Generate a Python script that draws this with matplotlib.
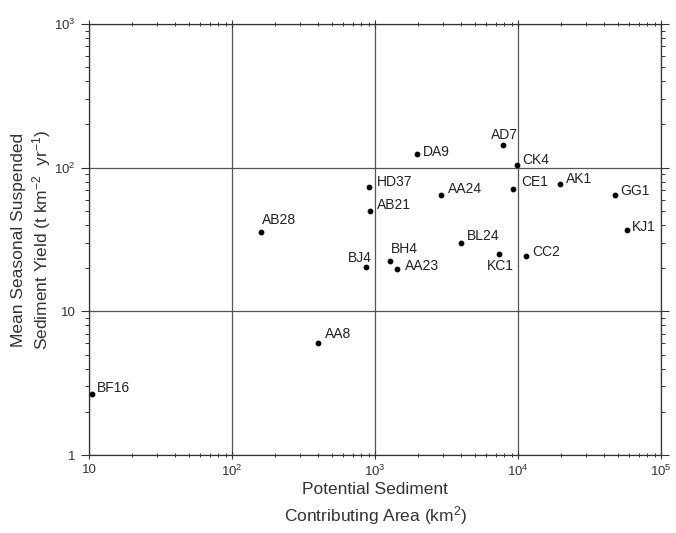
import numpy as np
from matplotlib import pyplot as plt
from matplotlib.ticker import LogLocator, NullFormatter, FixedLocator, FixedFormatter

plt.rcParams['font.family'] = ['Liberation Sans', 'DejaVu Sans']
plt.rcParams['mathtext.fontset'] = 'custom'
plt.rcParams['mathtext.rm'] = 'Liberation Sans'
plt.rcParams['mathtext.it'] = 'Liberation Sans:italic'
plt.rcParams['mathtext.bf'] = 'Liberation Sans:bold'

# basin data
names = ["BF16", "AA8", "AB28", "BJ4", "BH4", "AA23", "HD37", "AB21", "DA9",
         "AA24", "BL24", "KC1", "AD7", "CK4", "CE1", "CC2", "AK1", "GG1", "KJ1"]
area = [10.5, 399, 160, 865, 1273, 1426, 908, 922, 1968,
        2897, 3993, 7360, 7850, 9840, 9230, 11380, 19680, 47600, 57800]
yield_ = [2.66, 6.0, 35.6, 20.3, 22.4, 19.7, 73.3, 49.9, 124,
          64.5, 29.9, 25.0, 144, 104, 71, 24.3, 76.9, 64.5, 36.8]

x_ticks = [10, 1e2, 1e3, 1e4, 1e5]
x_ticklabels = ["10", "$10^2$", "$10^3$", "$10^4$", "$10^5$"]
y_ticks = [1, 10, 1e2, 1e3]
y_ticklabels = ["1", "10", "$10^2$", "$10^3$"]

# label placement (pixel offsets and alignment)
offsets = {
    "BF16": (5, 6, "left"), "AA8": (7, 9, "left"), "AB28": (1, 12, "left"),
    "BJ4": (6, 9, "right"), "BH4": (1, 12, "left"), "AA23": (8, 3, "left"),
    "HD37": (8, 5, "left"), "AB21": (7, 6, "left"), "DA9": (6, 2, "left"),
    "AA24": (7, 6, "left"), "BL24": (6, 7, "left"), "KC1": (1, -12, "center"),
    "AD7": (1, 10, "center"), "CK4": (5, 5, "left"), "CE1": (8, 7, "left"),
    "CC2": (6, 4, "left"), "AK1": (6, 5, "left"), "GG1": (5, 4, "left"),
    "KJ1": (5, 3, "left"),
}

fig = plt.figure(figsize=(6.76, 5.33), dpi=100)
ax = fig.add_axes([0.1317, 0.1463, 0.8463, 0.8087])
ax.set_xscale("log")
ax.set_yscale("log")
ax.set_xlim(10, 1e5)
ax.set_ylim(1, 1e3)

ax.scatter(area, yield_, s=10, color="black", zorder=3)
for n, xv, yv in zip(names, area, yield_):
    dx, dy, ha = offsets[n]
    ax.annotate(n, (xv, yv), xytext=(dx, dy), textcoords="offset pixels",
                ha=ha, va="center", fontsize=10, color="#222222")

ax.xaxis.set_major_locator(FixedLocator(x_ticks))
ax.xaxis.set_major_formatter(FixedFormatter(x_ticklabels))
ax.yaxis.set_major_locator(FixedLocator(y_ticks))
ax.yaxis.set_major_formatter(FixedFormatter(y_ticklabels))
for axis in (ax.xaxis, ax.yaxis):
    axis.set_minor_locator(LogLocator(base=10, subs=np.arange(2, 10), numticks=20))
    axis.set_minor_formatter(NullFormatter())

ax.tick_params(which="both", top=True, right=True, direction="out",
               labelsize=9.5, colors="#333333", labelcolor="#333333")
ax.tick_params(axis="x", which="both", bottom=True, direction="inout")
ax.tick_params(which="major", length=6, width=0.8)
ax.tick_params(which="minor", length=3, width=0.7)

ax.grid(True, which="major", color="#555555", linewidth=0.9)
for sp in ax.spines.values():
    sp.set_color("#333333")
    sp.set_linewidth(0.9)

ax.set_xlabel("Potential Sediment\nContributing Area (km$^2$)", fontsize=12.5,
              color="#333333", labelpad=2, linespacing=1.4)
ax.set_ylabel("Mean Seasonal Suspended\nSediment Yield (t km$^{-2}$  yr$^{-1}$)",
              fontsize=12.5, color="#333333", labelpad=1, linespacing=1.2)

fig.savefig("out.png", dpi=100)
